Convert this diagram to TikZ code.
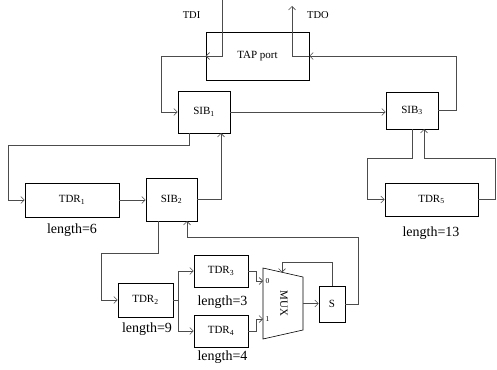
\documentclass[tikz,border=0pt]{standalone}
\usepackage{fontspec}
\setmainfont{Liberation Serif}
\usetikzlibrary{arrows.meta}
\tikzset{
  box/.style={draw=black, line width=0.6pt, inner sep=0pt, font=\fontsize{11}{13}\selectfont},
  conn/.style={draw=black!70, line width=0.6pt},
  arr/.style={conn, -{Straight Barb[length=3.5pt,width=7pt]}},
  lenlbl/.style={font=\fontsize{14}{16}\selectfont, inner sep=0pt},
  pinlbl/.style={font=\fontsize{10.5}{12}\selectfont, inner sep=0pt},
}
\begin{document}
\begin{tikzpicture}[x=1pt,y=-1pt]
\useasboundingbox (0,0) rectangle (497,369);
% boxes
\node[box, minimum width=103pt, minimum height=48pt] (TAP) at (257.5,56) {TAP port};
\node[box, minimum width=52pt, minimum height=42pt] (SIB1) at (204,112) {SIB\textsubscript{1}};
\node[box, minimum width=52pt, minimum height=37pt] (SIB3) at (412,110.5) {SIB\textsubscript{3}};
\node[box, minimum width=94pt, minimum height=34pt] (TDR1) at (72,200) {TDR\textsubscript{1}};
\node[box, minimum width=51pt, minimum height=43pt] (SIB2) at (171.5,199.5) {SIB\textsubscript{2}};
\node[box, minimum width=93pt, minimum height=33pt] (TDR5) at (431.5,199.5) {TDR\textsubscript{5}};
\node[box, minimum width=55pt, minimum height=34pt] (TDR2) at (145.5,300) {TDR\textsubscript{2}};
\node[box, minimum width=54pt, minimum height=32pt] (TDR3) at (221,271) {TDR\textsubscript{3}};
\node[box, minimum width=54pt, minimum height=32pt] (TDR4) at (221,331) {TDR\textsubscript{4}};
\node[box, minimum width=26pt, minimum height=36pt] (S) at (332,304) {S};
% MUX
\coordinate (m1) at (263,268);
\coordinate (m2) at (303,277);
\coordinate (m3) at (303,330);
\coordinate (m4) at (263,339);
\draw[black, line width=0.6pt] (m1) -- (m2) -- (m3) -- (m4) -- cycle;
\node[rotate=-90, font=\fontsize{11}{12}\selectfont, inner sep=0pt] (MUX) at (284,303.5) {MUX};
\coordinate (in0) at (263,281);
\coordinate (in1) at (263,319);
\coordinate (mout) at (303,303.5);
\coordinate (mtop) at (282,272.5);
\node[font=\fontsize{7.5}{8}\selectfont, anchor=west, inner sep=0pt] (l0) at (265.5,281) {0};
\node[font=\fontsize{7.5}{8}\selectfont, anchor=west, inner sep=0pt] (l1) at (265.5,319) {1};
% labels
\node[pinlbl] (tdilbl) at (191.5,15) {TDI};
\node[pinlbl] (tdolbl) at (318,15) {TDO};
\node[lenlbl] (len1) at (72,230) {length=6};
\node[lenlbl] (len2) at (147,329) {length=9};
\node[lenlbl] (len3) at (222.5,302) {length=3};
\node[lenlbl] (len4) at (222.5,357) {length=4};
\node[lenlbl] (len5) at (431,233) {length=13};
% free ends
\coordinate (tdi) at (222.7,0);
\coordinate (tdo) at (292,6);
% connectors
\draw[arr] (tdi) |- (TAP.west);
\draw[arr] (TAP.west) -- (161.7,56) |- (SIB1.west);
\draw[arr] (SIB3.east) -- (456,110.5) |- (TAP.east);
\draw[arr] (TAP.east) -- (292,56) -- (tdo);
\draw[arr] (SIB1.east) -- (SIB1.east -| SIB3.west);
\draw[arr] (189,133) -- (189,145) -- (8,145) |- (TDR1.west);
\draw[arr] (TDR1.east) -- (TDR1.east -| SIB2.west);
\draw[arr] (SIB2.east) -- (221,199.5) -- (221,133);
\draw[arr] (412,129) -- (412,158) -- (367,158) |- (TDR5.west);
\draw[arr] (TDR5.east) -- (495,199.5) -- (495,158) -- (424,158) -- (424,129);
\draw[arr] (158,221) -- (158,253) -- (101,253) |- (TDR2.west);
\draw[conn] (TDR2.east) -- (178,300);
\draw[arr] (178,300) |- (TDR3.west);
\draw[arr] (178,300) |- (TDR4.west);
\draw[arr] (TDR3.east) -- (256,271) |- (in0);
\draw[arr] (TDR4.east) -- (256,331) |- (in1);
\draw[arr] (mout) -- (mout -| S.west);
\draw[arr] (S.north) -- (332,262) -| (mtop);
\draw[arr] (S.east) -- (358,304) -- (358,237) -- (187,237) -- (187,221);
\end{tikzpicture}
\end{document}
